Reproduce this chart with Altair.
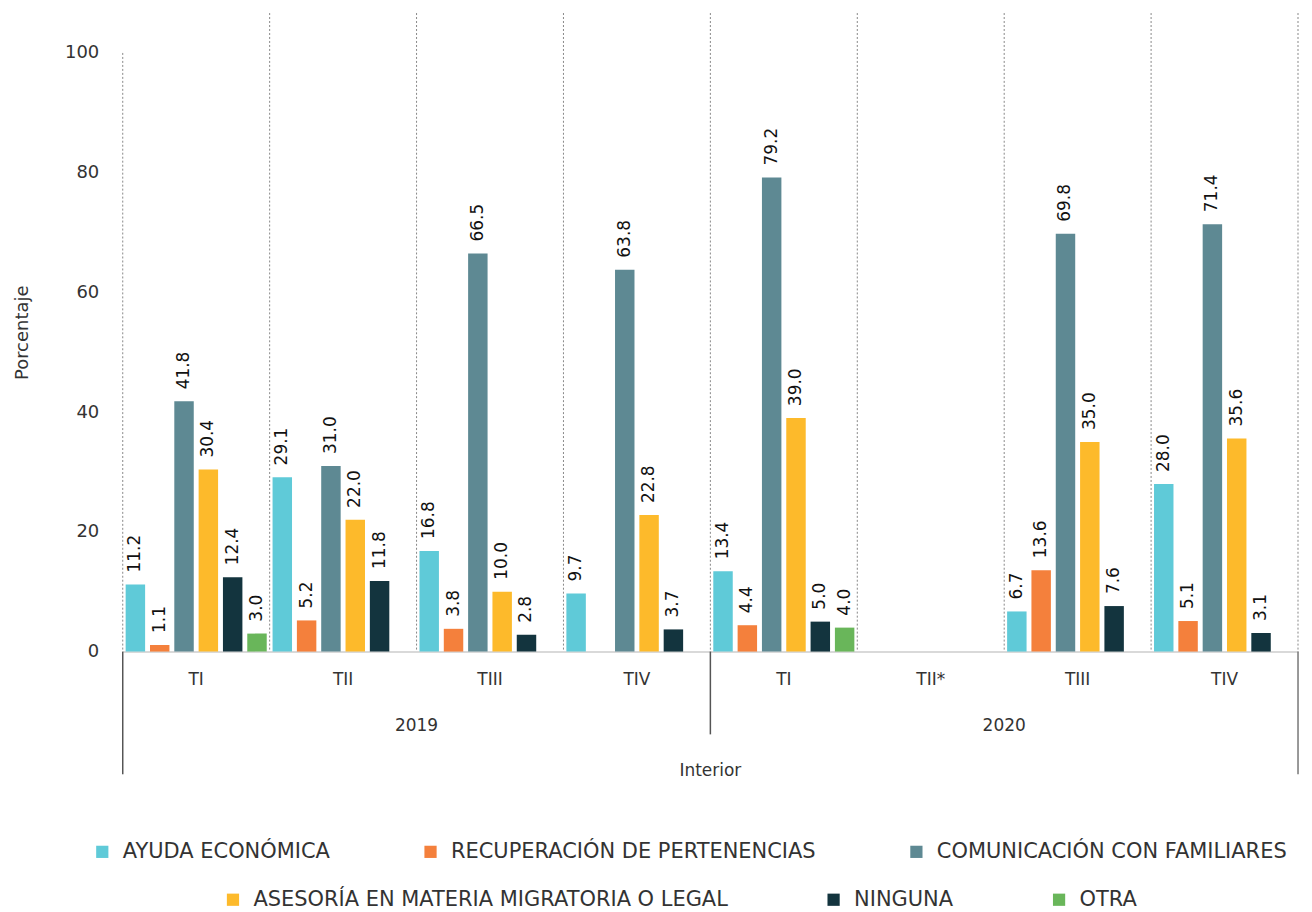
import altair as alt
import pandas as pd

# ---- data ----
years = ["2019", "2019", "2019", "2019", "2020", "2020", "2020", "2020"]
quarters = ["TI", "TII", "TIII", "TIV", "TI", "TII*", "TIII", "TIV"]
categories = [
    "AYUDA ECONÓMICA",
    "RECUPERACIÓN DE PERTENENCIAS",
    "COMUNICACIÓN CON FAMILIARES",
    "ASESORÍA EN MATERIA MIGRATORIA O LEGAL",
    "NINGUNA",
    "OTRA",
]
colors = ["#5FCAD8", "#F4803C", "#5E8993", "#FDBA2B", "#13343E", "#69B65A"]

ayuda = [11.2, 29.1, 16.8, 9.7, 13.4, None, 6.7, 28.0]
recuperacion = [1.1, 5.2, 3.8, None, 4.4, None, 13.6, 5.1]
comunicacion = [41.8, 31.0, 66.5, 63.8, 79.2, None, 69.8, 71.4]
asesoria = [30.4, 22.0, 10.0, 22.8, 39.0, None, 35.0, 35.6]
ninguna = [12.4, 11.8, 2.8, 3.7, 5.0, None, 7.6, 3.1]
otra = [3.0, None, None, None, 4.0, None, None, None]
series = [ayuda, recuperacion, comunicacion, asesoria, ninguna, otra]

keys = [f"{y}-{q}" for y, q in zip(years, quarters)]

rows = []
for cat, vals in zip(categories, series):
    for k, v in zip(keys, vals):
        if v is not None:
            rows.append({"key": k, "cat": cat, "val": v})
df = pd.DataFrame(rows)

FONT = "DejaVu Sans"
TXT = "#333333"
W, H = 1178, 600

xscale = alt.Scale(domain=keys, paddingInner=0, paddingOuter=0)
xoff_scale = alt.Scale(domain=categories, paddingInner=0.2, paddingOuter=0.12)
yscale = alt.Scale(domain=[0, 100], nice=False)

x_axis = alt.Axis(
    title=None,
    labelExpr="split(datum.label, '-')[1]",
    labelAngle=0,
    labelFont=FONT,
    labelFontSize=17,
    labelColor=TXT,
    labelPadding=20,
    ticks=False,
    domainColor="#cccccc",
    domainWidth=1.5,
    grid=False,
)


def X(bp=None):
    if bp is None:
        return alt.X("key:N", scale=xscale, axis=x_axis, sort=keys)
    return alt.X("key:N", scale=xscale, axis=x_axis, sort=keys, bandPosition=bp)


y_axis = alt.Axis(
    title="Porcentaje",
    values=[0, 20, 40, 60, 80, 100],
    grid=False,
    domain=False,
    ticks=False,
    labelFont=FONT,
    labelFontSize=18,
    labelColor=TXT,
    labelPadding=24,
    titleFont=FONT,
    titleFontSize=18,
    titleFontWeight="normal",
    titleColor=TXT,
    titlePadding=33,
    titleY=280,
)

base = alt.Chart(df)
y_enc = alt.Y("val:Q", scale=yscale, axis=y_axis)

legend_common = dict(
    title=None,
    orient="none",
    direction="horizontal",
    symbolType="square",
    symbolSize=150,
    symbolStrokeWidth=0,
    labelFont=FONT,
    labelFontSize=21,
    labelColor=TXT,
    labelOffset=10,
    labelLimit=0,
)

bars_a = base.transform_filter(
    alt.FieldOneOfPredicate(field="cat", oneOf=categories[:3])
).mark_bar().encode(
    x=X(),
    xOffset=alt.XOffset("cat:N", scale=xoff_scale, sort=categories),
    y=y_enc,
    color=alt.Color(
        "cat:N",
        scale=alt.Scale(domain=categories[:3], range=colors[:3]),
        sort=categories[:3],
        legend=alt.Legend(legendX=-31, legendY=790, columnPadding=90, **legend_common),
    ),
)

bars_b = base.transform_filter(
    alt.FieldOneOfPredicate(field="cat", oneOf=categories[3:])
).mark_bar().encode(
    x=X(),
    xOffset=alt.XOffset("cat:N", scale=xoff_scale, sort=categories),
    y=y_enc,
    color=alt.Color(
        "cat:N",
        scale=alt.Scale(domain=categories[3:], range=colors[3:]),
        sort=categories[3:],
        legend=alt.Legend(legendX=100, legendY=838, columnPadding=95, **legend_common),
    ),
)

labels = base.mark_text(
    angle=270, align="left", baseline="middle", dx=12,
    font=FONT, fontSize=17, color="#111111",
).encode(
    x=X(),
    xOffset=alt.XOffset("cat:N", scale=xoff_scale, sort=categories),
    y=y_enc,
    text=alt.Text("val:Q", format=".1f"),
)

# separators
sep_df = pd.DataFrame({"key": keys[1:]})
dotted_inner = alt.Chart(sep_df).mark_rule(
    color="#888888", strokeDash=[2, 2], strokeWidth=1
).encode(x=X(0), y=alt.value(-40), y2=alt.value(H))

dotted_right = alt.Chart(pd.DataFrame({"key": keys[-1:]})).mark_rule(
    color="#888888", strokeDash=[2, 2], strokeWidth=1
).encode(x=X(1), y=alt.value(-40), y2=alt.value(H))

dotted_left = alt.Chart(pd.DataFrame({"key": keys[:1]})).mark_rule(
    color="#888888", strokeDash=[2, 2], strokeWidth=1
).encode(x=X(0), y=alt.value(0), y2=alt.value(H))

solid_left = alt.Chart(pd.DataFrame({"key": keys[:1]})).mark_rule(
    color="#555555", strokeWidth=1.5
).encode(x=X(0), y=alt.value(H), y2=alt.value(H + 123))

solid_right = alt.Chart(pd.DataFrame({"key": keys[-1:]})).mark_rule(
    color="#777777", strokeWidth=1.5
).encode(x=X(1), y=alt.value(H), y2=alt.value(H + 123))

solid_mid = alt.Chart(pd.DataFrame({"key": [keys[4]]})).mark_rule(
    color="#555555", strokeWidth=1.5
).encode(x=X(0), y=alt.value(H), y2=alt.value(H + 83))

# year labels (centered on each year's span)
year_df = pd.DataFrame({"key": [keys[2], keys[6]], "year": ["2019", "2020"]})
year_text = alt.Chart(year_df).mark_text(
    font=FONT, fontSize=17, color=TXT, baseline="middle"
).encode(x=X(0), y=alt.value(H + 75), text="year:N")

group_df = pd.DataFrame({"key": [keys[4]], "grp": ["Interior"]})
group_text = alt.Chart(group_df).mark_text(
    font=FONT, fontSize=17, color=TXT, baseline="middle"
).encode(x=X(0), y=alt.value(H + 120), text="grp:N")

chart = alt.layer(
    dotted_inner, dotted_right, dotted_left,
    bars_a, bars_b, labels,
    solid_left, solid_right, solid_mid,
    year_text, group_text,
).resolve_scale(color="independent").properties(
    width=W, height=H, background="white",
    padding={"left": 5, "top": 3, "right": 5, "bottom": 5},
).configure_view(strokeWidth=0, stroke="transparent").configure_axis(grid=False)

chart.save("out.html", embed_options={"renderer": "svg", "actions": False})
